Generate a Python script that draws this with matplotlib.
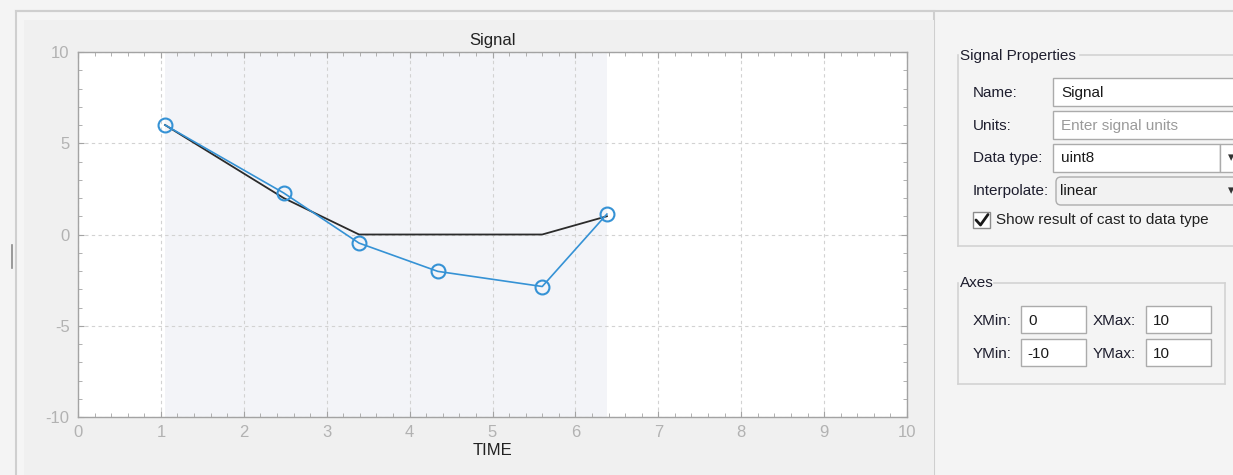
import numpy as np
import matplotlib
matplotlib.use('Agg')
import matplotlib.pyplot as plt
from matplotlib.patches import Rectangle, FancyBboxPatch
from matplotlib.ticker import MultipleLocator

plt.rcParams['font.family'] = ['Liberation Sans', 'DejaVu Sans']
plt.rcParams['axes.unicode_minus'] = False

# signal points (time, value) and the same signal cast to uint8
time = [1.05, 2.48, 3.39, 4.34, 5.60, 6.38]
values = [6.0, 2.28, -0.47, -2.02, -2.85, 1.12]
cast_values = [6, 2, 0, 0, 0, 1]

x_ticks = [0, 1, 2, 3, 4, 5, 6, 7, 8, 9, 10]
y_ticks = [-10, -5, 0, 5, 10]

W, H = 1233, 475
fig = plt.figure(figsize=(W / 100, H / 100), dpi=100, facecolor='#f4f4f4')

# background / widgets layer in pixel coordinates
bg = fig.add_axes([0, 0, 1, 1])
bg.set_xlim(0, W)
bg.set_ylim(H, 0)
bg.axis('off')


def box(x0, y0, x1, y1, fc='white', ec='#ababab', lw=1.0):
    bg.add_patch(Rectangle((x0, y0), x1 - x0, y1 - y0, facecolor=fc, edgecolor=ec, lw=lw))


def label(x, y, s, color='#1e1e2e', size=11, **kw):
    bg.text(x, y + 1, s, color=color, fontsize=size, va='center', ha='left', **kw)


# plot panel
box(16, 11, 934, 480, fc='#f5f5f5', ec='#cfcfcf', lw=1.5)
box(24, 20, 934, 480, fc='#f0f0f0', ec='none')
bg.plot([16, W], [11, 11], color='#cfcfcf', lw=1.5)
bg.plot([12, 12], [245, 268], color='#8a8a8a', lw=1.2)

# Signal Properties group
grey_line = dict(color='#d3d3d3', lw=1.2)
bg.plot([1080, W], [55, 55], **grey_line)
bg.plot([958, 958], [55, 246], **grey_line)
bg.plot([958, W], [246, 246], **grey_line)
label(960, 55, 'Signal Properties')

label(973, 92, 'Name:')
box(1053, 78, 1245, 106)
label(1061, 92, 'Signal', color='#1a1a1a')

label(973, 125, 'Units:')
box(1053, 111, 1245, 139)
label(1061, 125, 'Enter signal units', color='#9a9a9a')

label(973, 157, 'Data type:')
box(1053, 144, 1220, 172)
box(1220, 144, 1245, 172)
label(1061, 157, 'uint8', color='#1a1a1a')
bg.text(1231, 158, '▾', fontsize=9, color='#333333', va='center', ha='center',
        family='DejaVu Sans')

label(973, 190, 'Interpolate:')
bg.add_patch(FancyBboxPatch((1056, 177), 200, 28, boxstyle='round,pad=0,rounding_size=5',
                            facecolor='#f2f2f2', edgecolor='#adadad', lw=1.0))
label(1060, 190, 'linear', color='#1a1a1a')
bg.text(1231, 191, '▾', fontsize=9, color='#333333', va='center', ha='center',
        family='DejaVu Sans')

box(973, 212, 990, 228, fc='white', ec='#8c8c8c')
bg.plot([976, 980.5, 988], [220, 225, 214.5], color='#1a1a1a', lw=2.0,
        solid_capstyle='round', solid_joinstyle='round')
label(996, 219, 'Show result of cast to data type', color='#222222')

# Axes group
bg.plot([994, 1225], [283, 283], **grey_line)
bg.plot([958, 958], [283, 384], **grey_line)
bg.plot([1225, 1225], [283, 384], **grey_line)
bg.plot([958, 1225], [384, 384], **grey_line)
label(960, 282, 'Axes')

label(973, 320, 'XMin:')
box(1021, 306, 1086, 333)
label(1028, 320, '0', color='#1a1a1a')
label(1093, 320, 'XMax:')
box(1146, 306, 1211, 333)
label(1153, 320, '10', color='#1a1a1a')

label(973, 353, 'YMin:')
box(1021, 339, 1086, 366)
label(1027, 353, '-10', color='#1a1a1a')
label(1093, 353, 'YMax:')
box(1146, 339, 1211, 366)
label(1153, 353, '10', color='#1a1a1a')

# the signal axes
ax = fig.add_axes([78 / W, 1 - 417 / H, (907 - 78) / W, (417 - 52) / H])
ax.set_facecolor('white')
ax.axvspan(time[0], time[-1], color='#f3f4f8', zorder=0, lw=0)
ax.plot(time, cast_values, color='#2b2b2b', lw=1.3, zorder=3)
ax.plot(time, values, color='#3592d5', lw=1.2, marker='o', markersize=10,
        markerfacecolor='none', markeredgecolor='#3592d5', markeredgewidth=1.5, zorder=4)

ax.set_xlim(0, 10)
ax.set_ylim(-10, 10)
ax.set_xticks(x_ticks)
ax.set_yticks(y_ticks)
ax.xaxis.set_minor_locator(MultipleLocator(0.2))
ax.yaxis.set_minor_locator(MultipleLocator(1))
ax.grid(True, which='major', color='#d2d2d2', linestyle=(0, (3, 3)), lw=0.8, zorder=1)
ax.set_axisbelow(True)
ax.tick_params(which='both', direction='in', top=True, right=True, color='#a3a3a3',
               labelcolor='#b2b2b2', labelsize=12)
ax.tick_params(which='major', length=4.5, width=0.8, pad=6)
ax.tick_params(which='minor', length=3, width=0.6)
for s in ax.spines.values():
    s.set_color('#a3a3a3')
    s.set_linewidth(1.0)

ax.set_title('Signal', fontsize=12, color='#222222', pad=5)
ax.set_xlabel('TIME', fontsize=12, color='#222222', labelpad=2)

fig.savefig('out.png', dpi=100, facecolor=fig.get_facecolor())
